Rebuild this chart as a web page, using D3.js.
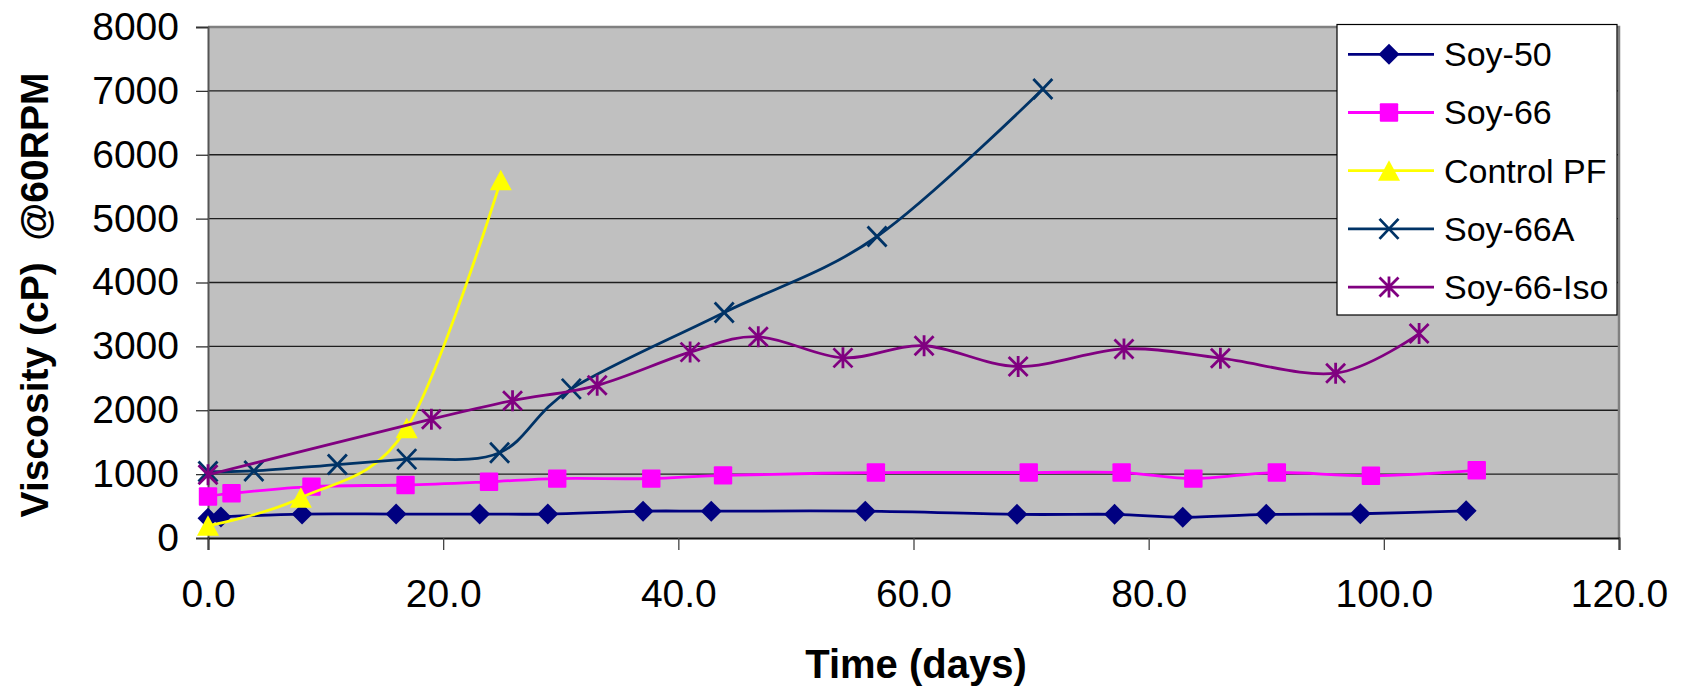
<!DOCTYPE html>
<html>
<head>
<meta charset="utf-8">
<script src="https://cdn.jsdelivr.net/npm/d3@7"></script>
<style>
  html, body { margin: 0; padding: 0; background: #ffffff; }
  svg { display: block; }
  text { font-family: "Liberation Sans", Arial, sans-serif; fill: #000; }
</style>
</head>
<body>
<svg id="chart" width="1690" height="689"></svg>
<script>
// ---------- DATA ----------
const seriesNames = ["Soy-50", "Soy-66", "Control PF", "Soy-66A", "Soy-66-Iso"];

const soy50Days   = [0, 1.1, 8.0, 16.0, 23.1, 28.9, 37.0, 42.8, 55.9, 68.8, 77.1, 82.9, 90.0, 98.0, 107.0];
const soy50Visc   = [310, 330, 375, 375, 375, 375, 420, 420, 420, 370, 370, 325, 370, 380, 425];

const soy66Days   = [0, 2.0, 8.8, 16.8, 23.9, 29.7, 37.7, 43.8, 56.8, 69.8, 77.7, 83.8, 90.9, 98.9, 107.9];
const soy66Visc   = [650, 700, 805, 830, 880, 930, 930, 980, 1025, 1025, 1025, 930, 1025, 975, 1060];

const controlDays = [0, 7.9, 16.9, 24.9];
const controlVisc = [190, 630, 1720, 5600];

const soy66ADays  = [0, 3.9, 11.0, 16.9, 24.8, 30.9, 43.9, 56.9, 71.0];
const soy66AVisc  = [1040, 1050, 1150, 1235, 1335, 2335, 3530, 4720, 7030];

const isoDays     = [0, 19.0, 25.9, 33.1, 41.0, 46.8, 54.0, 60.9, 68.9, 77.9, 86.1, 95.9, 103.0];
const isoVisc     = [990, 1860, 2150, 2390, 2910, 3150, 2820, 3010, 2685, 2960, 2815, 2580, 3200];

const xTicks = [0, 20, 40, 60, 80, 100, 120];
const yTicks = [0, 1000, 2000, 3000, 4000, 5000, 6000, 7000, 8000];

const xTitle = "Time (days)";
const yTitle = "Viscosity (cP)  @60RPM";

// ---------- STYLE ----------
const colors  = ["#000080", "#FF00FF", "#FFFF00", "#003366", "#800080"];
const markers = ["diamond", "square", "triangle", "x", "star"];

const series = [
  { name: seriesNames[0], days: soy50Days,   visc: soy50Visc },
  { name: seriesNames[1], days: soy66Days,   visc: soy66Visc },
  { name: seriesNames[2], days: controlDays, visc: controlVisc },
  { name: seriesNames[3], days: soy66ADays,  visc: soy66AVisc },
  { name: seriesNames[4], days: isoDays,     visc: isoVisc }
].map((s, i) => ({
  ...s, color: colors[i], marker: markers[i],
  pts: s.days.map((d, j) => ({ x: d, y: s.visc[j] }))
}));

const plot = { left: 208, right: 1619, top: 27, bottom: 538 };

const svg = d3.select("#chart");
svg.append("rect").attr("width", 1690).attr("height", 689).attr("fill", "#fff");

const x = d3.scaleLinear().domain([0, 120]).range([plot.left, plot.right]);
const y = d3.scaleLinear().domain([0, 8000]).range([plot.bottom, plot.top]);

// plot background
svg.append("rect")
  .attr("x", plot.left).attr("y", plot.top)
  .attr("width", plot.right - plot.left).attr("height", plot.bottom - plot.top)
  .attr("fill", "#C0C0C0");

// gridlines
svg.append("g").selectAll("line")
  .data(yTicks.filter(v => v > 0 && v < 8000))
  .join("line")
  .attr("x1", plot.left).attr("x2", plot.right)
  .attr("y1", d => y(d)).attr("y2", d => y(d))
  .attr("stroke", "#1e1e1e").attr("stroke-width", 1.3);

// plot border (top/right gray)
svg.append("path")
  .attr("d", `M${plot.left},${plot.top}H${plot.right}V${plot.bottom}`)
  .attr("fill", "none").attr("stroke", "#808080").attr("stroke-width", 2.5);

// axes
const yAxis = d3.axisLeft(y).tickValues(yTicks).tickSize(12).tickPadding(17).tickFormat(d => d);
const gy = svg.append("g").attr("transform", `translate(${plot.left},0)`).call(yAxis);
gy.select(".domain").attr("stroke", "#555").attr("stroke-width", 2);
gy.selectAll(".tick line").attr("stroke", "#333").attr("stroke-width", 1.3);
gy.selectAll(".tick text").attr("font-size", 39).attr("font-family", "'Liberation Sans', Arial, sans-serif").attr("fill", "#000");

const xAxis = d3.axisBottom(x).tickValues(xTicks).tickSize(12).tickPadding(29).tickFormat(d => d.toFixed(1));
const gx = svg.append("g").attr("transform", `translate(0,${plot.bottom})`).call(xAxis);
gx.select(".domain").attr("stroke", "#111").attr("stroke-width", 2);
gx.selectAll(".tick line").attr("stroke", "#444").attr("stroke-width", 1.3);
gx.selectAll(".tick text").attr("font-size", 39).attr("font-family", "'Liberation Sans', Arial, sans-serif").attr("fill", "#000");

// titles
svg.append("text")
  .attr("x", 916).attr("y", 678)
  .attr("text-anchor", "middle").attr("font-size", 40).attr("font-weight", "bold")
  .text(xTitle);
svg.append("text")
  .attr("transform", "translate(48,295) rotate(-90)")
  .attr("text-anchor", "middle").attr("font-size", 39).attr("font-weight", "bold")
  .attr("xml:space", "preserve")
  .style("white-space", "pre")
  .text(yTitle);

// markers
function drawMarker(g, type, color) {
  if (type === "diamond") {
    g.append("path").attr("d", "M0,-10.5L10.5,0L0,10.5L-10.5,0Z").attr("fill", color);
  } else if (type === "square") {
    g.append("rect").attr("x", -9.2).attr("y", -9.2).attr("width", 18.4).attr("height", 18.4)
      .attr("rx", 1).attr("fill", color);
  } else if (type === "triangle") {
    g.append("path").attr("d", "M0,-10.5L11,10L-11,10Z").attr("fill", color);
  } else if (type === "x") {
    g.append("path").attr("d", "M-9.5,-10L9.5,10M-9.5,10L9.5,-10")
      .attr("stroke", color).attr("stroke-width", 2.8).attr("fill", "none");
  } else if (type === "star") {
    g.append("path").attr("d", "M-9.5,-9.5L9.5,9.5M-9.5,9.5L9.5,-9.5M0,-10.5L0,10.5")
      .attr("stroke", color).attr("stroke-width", 2.8).attr("fill", "none");
  }
}

const line = d3.line().x(d => x(d.x)).y(d => y(d.y)).curve(d3.curveCardinal.tension(0));

series.forEach(s => {
  const g = svg.append("g");
  g.append("path").datum(s.pts)
    .attr("d", line)
    .attr("fill", "none").attr("stroke", s.color)
    .attr("stroke-width", 2.8).attr("stroke-linejoin", "round");
  g.selectAll("g.m").data(s.pts).join("g")
    .attr("class", "m")
    .attr("transform", d => `translate(${x(d.x)},${y(d.y)})`)
    .each(function() { drawMarker(d3.select(this), s.marker, s.color); });
});

// legend
const leg = svg.append("g");
leg.append("rect")
  .attr("x", 1337).attr("y", 24.5).attr("width", 280).attr("height", 290.5)
  .attr("fill", "#fff").attr("stroke", "#000").attr("stroke-width", 1.2);
series.forEach((s, i) => {
  const cy = 54.3 + i * 58.2;
  const row = leg.append("g");
  row.append("line").attr("x1", 1348).attr("x2", 1434).attr("y1", cy).attr("y2", cy)
    .attr("stroke", s.color).attr("stroke-width", 2.8);
  drawMarker(row.append("g").attr("transform", `translate(1389,${cy})`), s.marker, s.color);
  row.append("text").attr("x", 1444).attr("y", cy).attr("dy", "0.35em")
    .attr("font-size", 34).text(s.name);
});
</script>
</body>
</html>
